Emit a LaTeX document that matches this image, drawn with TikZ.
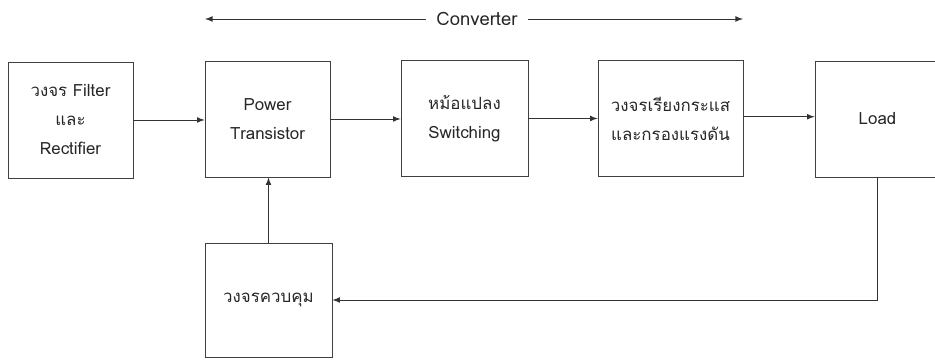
\documentclass[tikz,border=0pt]{standalone}
\usepackage{fontspec}
\setmainfont[Script=Thai]{Loma}
\usepackage{tikz}

\begin{document}
\begin{tikzpicture}[scale=1.0, >=latex,
    blk/.style={draw=black!75, line width=0.5pt, minimum width=2.5cm,
      minimum height=2.32cm, align=center, inner sep=0pt, text=black!85,
      font=\fontsize{9.6}{16.5}\selectfont},
    link/.style={->, draw=black!80, line width=0.5pt}]
  \useasboundingbox (0,0) rectangle (18.7,7.2);

  %% Main chain of blocks
  \node[blk] (filt) at (1.41,4.80) {วงจร Filter\\และ\\Rectifier};
  \node[blk] (pwr) at (5.35,4.82) {Power\\Transistor};
  \node[blk, minimum width=2.54cm] (xfmr) at (9.29,4.83) {หม้อแปลง\\Switching};
  \node[blk, minimum width=2.9cm] (rect) at (13.41,4.83) {วงจรเรียงกระแส\\และกรองแรงดัน};
  \node[blk] (load) at (17.55,4.82) {Load};

  %% Control block
  \node[blk, minimum width=2.54cm, minimum height=2.28cm] (ctrl) at (5.37,1.2) {วงจรควบคุม};

  %% Converter span
  \node[font=\fontsize{10.5}{12}\selectfont, text=black!85, inner xsep=0.2cm] (conv) at (9.54,6.82) {Converter};
  \coordinate (convL) at (4.1,6.82);
  \coordinate (convR) at (14.86,6.82);
  \draw[link] (conv.west) -- (convL);
  \draw[link] (conv.east) -- (convR);

  %% Arrows between blocks
  \draw[link] (filt.east) -- (filt.east -| pwr.west);
  \draw[link] (pwr.east) -- (pwr.east -| xfmr.west);
  \draw[link] (xfmr.east) -- (xfmr.east -| rect.west);
  \draw[link] ([yshift=1pt]rect.east) -- ([yshift=1pt]rect.east -| load.west);

  %% Feedback path
  \draw[link] (ctrl.north) -- (ctrl.north |- pwr.south);
  \draw[link] (load.south) |- (ctrl.east);
\end{tikzpicture}
\end{document}
